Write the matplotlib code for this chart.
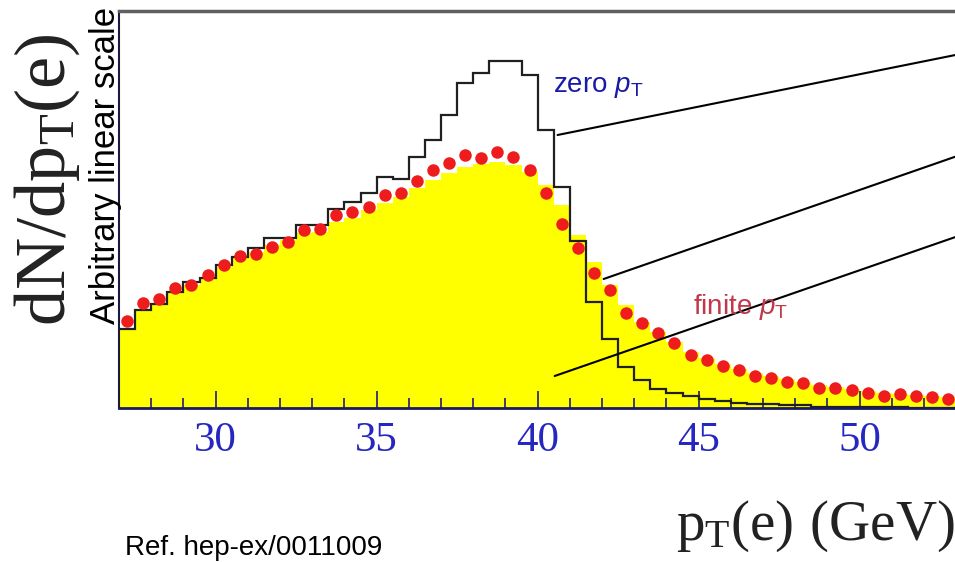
import numpy as np
import matplotlib
matplotlib.use("Agg")
import matplotlib.pyplot as plt

# bin edges of the 0.5 GeV histograms (GeV)
bin_lo = 27.0
bin_w = 0.5

# zero pT prediction (black outline), one value per bin from 27.0 GeV
zero_pt = [79, 98, 104, 116, 126, 130, 143, 151, 160, 170,
           170, 183, 183, 199, 206, 215, 231, 229, 251, 268,
           293, 325, 335, 347, 347, 333, 278, 221, 167, 106,
           69, 41, 28, 19, 15, 12, 9, 7, 5, 4,
           4, 3, 3, 1, 1, 1, 1, 1, 1, 0,
           0, 0]

# finite pT prediction (yellow filled histogram)
finite_fill = [79, 98, 104, 116, 123, 130, 141, 150, 156, 163,
               168, 175, 176, 186, 190, 198, 205, 211, 220, 228,
               235, 241, 244, 246, 243, 236, 223, 203, 173, 146,
               123, 103, 86, 76, 66, 56, 50, 44, 39, 35,
               32, 29, 26, 23, 21, 19, 17, 15, 14, 13,
               12, 11]

# finite pT points (red), at bin centres
finite_pts = [87, 105, 109, 120, 123, 133, 143, 152, 154, 161,
              166, 178, 179, 193, 196, 201, 213, 215, 227, 238,
              245, 253, 250, 256, 251, 238, 215, 184, 160, 135,
              118, 95, 85, 75, 65, 53, 48, 42, 38, 32,
              30, 26, 25, 20, 20, 18, 15, 12, 14, 12,
              11, 9]

x_ticks = [30, 35, 40, 45, 50]

# leader lines: start on the curves (data), end at the right edge (figure fraction)
lead_x = [40.62, 42.05, 40.53]
lead_y = [273, 129, 32]
lead_end = [0.902, 0.721, 0.578]

edges = bin_lo + bin_w * np.arange(len(zero_pt) + 1)
centers = edges[:-1] + bin_w / 2

plt.rcParams['mathtext.fontset'] = 'custom'
plt.rcParams['mathtext.rm'] = 'Liberation Serif'
plt.rcParams['mathtext.sf'] = 'Liberation Sans'
plt.rcParams['mathtext.it'] = 'Liberation Sans:italic'

fig = plt.figure(figsize=(9.55, 5.62), dpi=100)
ax = fig.add_axes([119 / 955, 154 / 562, 846 / 955, 397 / 562])

ax.stairs(finite_fill, edges, fill=True, color='#ffff00', zorder=1)
ax.stairs(zero_pt, edges, baseline=None, color='#202020', lw=1.6, zorder=2)
ax.plot(centers, finite_pts, 'o', color='#ee1c1c', ms=9, mec='none', zorder=3)

ax.set_xlim(27, 27 + 846 / 32.2)
ax.set_ylim(0, 397)
ax.set_yticks([])
ax.set_xticks(x_ticks)
ax.set_xticks(np.arange(28, 54), minor=True)
ax.tick_params(axis='x', which='both', direction='in', colors='#1e1e70',
               labelcolor='#2626c0', pad=10)
ax.tick_params(axis='x', which='major', length=12, width=1.2)
ax.tick_params(axis='x', which='minor', length=7, width=1.2)
for lab in ax.get_xticklabels():
    lab.set_fontfamily('Liberation Serif')
    lab.set_fontsize(31)

ax.spines['right'].set_visible(False)
ax.spines['top'].set_color('#606060')
ax.spines['top'].set_linewidth(2.5)
ax.spines['left'].set_color('#1a1a40')
ax.spines['left'].set_linewidth(1.5)
ax.spines['bottom'].set_color('#1a1a60')
ax.spines['bottom'].set_linewidth(2)

for lx, ly, le in zip(lead_x, lead_y, lead_end):
    ax.annotate('', xy=(lx, ly), xycoords='data', xytext=(1.0, le),
                textcoords='figure fraction', annotation_clip=False,
                arrowprops=dict(arrowstyle='-', lw=1.5, color='black',
                                shrinkA=0, shrinkB=0))

fig.text(553 / 955, 1 - 92 / 562, r'zero $p_\mathsf{T}$', color='#1a1aa8',
         fontsize=20, family='Liberation Sans', va='baseline', ha='left')
fig.text(693 / 955, 1 - 314 / 562, r'finite $p_\mathsf{T}$', color='#c0384a',
         fontsize=20, family='Liberation Sans', va='baseline', ha='left')

fig.text(47 / 955, 1 - 180 / 562, r'$\mathrm{dN/dp_T(e)}$', rotation=90,
         fontsize=52, ha='center', va='center', color='#222222')
fig.text(106 / 955, 1 - 165 / 562, 'Arbitrary linear scale', rotation=90,
         fontsize=25, family='Liberation Sans', ha='center', va='center')
fig.text(955 / 955, 1 - 540 / 562, r'$\mathrm{p_T(e)\ (GeV)}$',
         fontsize=41, ha='right', va='baseline', color='#222222')
fig.text(125 / 955, 1 - 555 / 562, 'Ref. hep-ex/0011009',
         fontsize=20, family='Liberation Sans', ha='left', va='baseline')

fig.savefig('out.png', dpi=100)
